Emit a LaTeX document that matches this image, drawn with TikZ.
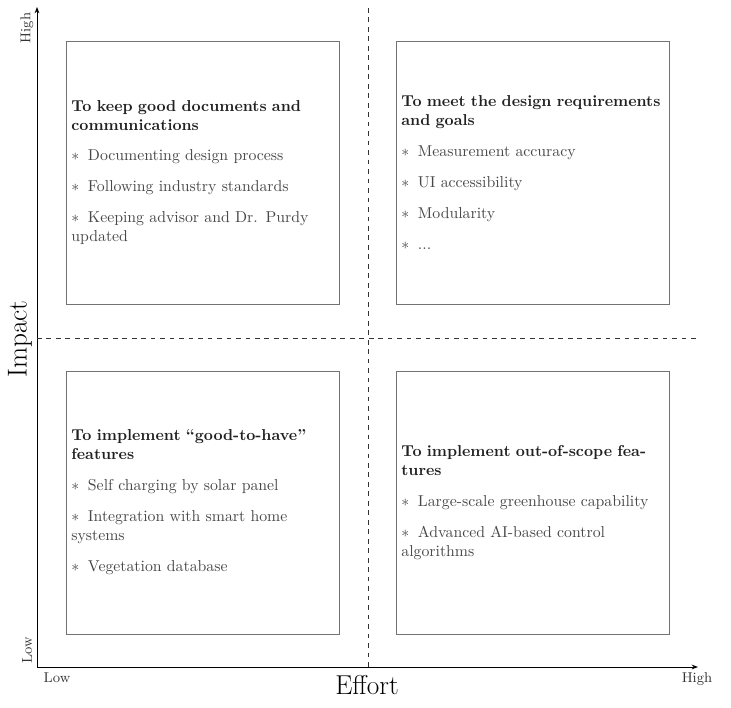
\documentclass[tikz,border=0pt]{standalone}
\usetikzlibrary{arrows.meta}
\definecolor{boxline}{gray}{0.45}
\definecolor{itemtext}{gray}{0.28}
\definecolor{titletext}{gray}{0.13}
\newcommand{\qtitle}[1]{{\bfseries\color{titletext}#1}\par}
\newcommand{\qitem}[1]{{\raggedright\color{itemtext}$\ast$\hspace{5.5pt}#1\par}}
\begin{document}
\begin{tikzpicture}[x=0.633pt,y=-0.633pt,
  quad/.style={draw=boxline, line width=0.5pt, minimum width=273*0.633pt, minimum height=263*0.633pt,
    inner sep=0pt},
  qtext/.style={text width=166pt, inner sep=0pt, font=\normalsize, execute at begin node={\setlength{\parskip}{7.6pt}}},
  axis/.style={line width=0.6pt, -{Stealth[length=4pt,width=3pt]}},
  divider/.style={dashed, line width=0.5pt, black!80},
  small/.style={font=\small, text=black!80}]
\useasboundingbox (0,0) rectangle (731,707);
% axes
\coordinate (O) at (37,667);
\coordinate (ytop) at (37,7);
\coordinate (xend) at (698,667);
\draw[axis] (O) -- (ytop);
\draw[axis] (O) -- (xend);
% dividers
\coordinate (vt) at (368,8);
\coordinate (vb) at (368,669);
\coordinate (hl) at (37,338);
\coordinate (hr) at (698,338);
\draw[divider] (vt) -- (vb);
\draw[divider] (hl) -- (hr);
% boxes
\node[quad] (tl) at (202.5,172.5) {};
\node[quad] (tr) at (532.5,172.5) {};
\node[quad] (bl) at (202.5,502.5) {};
\node[quad] (br) at (532.5,502.5) {};
\node[qtext] (tlt) at (tl.center) {\qtitle{To keep good documents and communications}\qitem{Documenting design process}\qitem{Following industry standards}\qitem{Keeping advisor and Dr. Purdy updated}};
\node[qtext] (trt) at (tr.center) {\qtitle{To meet the design requirements and goals}\qitem{Measurement accuracy}\qitem{UI accessibility}\qitem{Modularity}\qitem{...}};
\node[qtext] (blt) at (bl.center) {\qtitle{To implement ``good-to-have'' features}\qitem{Self charging by solar panel}\qitem{Integration with smart home systems}\qitem{Vegetation database}};
\node[qtext] (brt) at (br.center) {\qtitle{To implement out-of-scope features}\qitem{Large-scale greenhouse capability}\qitem{Advanced AI-based control algorithms}};
% axis labels
\node[small, rotate=90] (yhigh) at (27,28) {High};
\node[small, rotate=90] (ylow) at (27,650) {Low};
\node[font=\LARGE, rotate=90] (impact) at (20,339) {Impact};
\node[small] (xlow) at (57,678) {Low};
\node[small] (xhigh) at (697,679) {High};
\node[font=\LARGE] (effort) at (367,685) {Effort};
\end{tikzpicture}
\end{document}
